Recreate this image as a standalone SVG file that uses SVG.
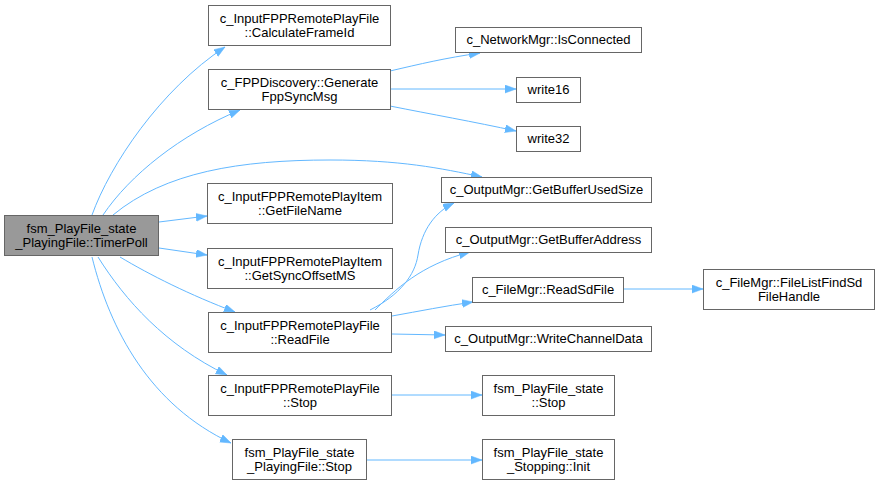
<svg xmlns="http://www.w3.org/2000/svg" width="879" height="485" viewBox="0 0 879 485">
<defs>
<marker id="ah" markerUnits="userSpaceOnUse" markerWidth="12" markerHeight="9" refX="11" refY="4" orient="auto">
<path d="M0,0 L11,4 L0,8 z" fill="#63b8ff" stroke="#63b8ff" stroke-width="0.5"/>
</marker>
</defs>
<style>
.n rect{fill:#ffffff;stroke:#666666;stroke-width:1}
.r rect{fill:#999999;stroke:#666666;stroke-width:1}
text{font-family:"Liberation Sans",Arial,sans-serif;font-size:13px;fill:#000;text-anchor:middle}
.e path{fill:none;stroke:#63b8ff;stroke-width:1;marker-end:url(#ah)}
</style>
<rect width="879" height="485" fill="#ffffff"/>
<g class="e" id="edges">
<path d="M92,215 C110,165 160,90 225,47"/>
<path d="M103,215 C130,175 180,135 240,110"/>
<path d="M113,215 C165,172 240,160 330,160 C400,160 440,168 482,177"/>
<path d="M159,222 L207,216"/>
<path d="M159,248 L207,255"/>
<path d="M120,257 C150,275 190,295 235,312"/>
<path d="M98,257 C125,300 165,345 227,375"/>
<path d="M92,257 C110,330 150,405 231,443"/>
<path d="M390,71 C420,64 445,58 480,53"/>
<path d="M390,89 L516,89"/>
<path d="M390,106 C430,114 475,122 516,131"/>
<path d="M370,310 C400,295 415,275 418,255 C422,230 435,212 454,203"/>
<path d="M375,310 C395,290 420,265 470,252"/>
<path d="M392,316 C420,311 445,306 473,302"/>
<path d="M392,334 L445,335"/>
<path d="M624,289 L703,289"/>
<path d="M392,395 L482,395"/>
<path d="M367,460 L482,460"/>
</g>
<g class="r" id="n_root"><rect x="4.5" y="215.5" width="154" height="40"/><text x="81.5" y="232.5">fsm_PlayFile_state</text><text x="81.5" y="246.5">_PlayingFile::TimerPoll</text></g>
<g class="n" id="n_calcframe"><rect x="208.5" y="5.5" width="182" height="40"/><text x="299.5" y="22.5">c_InputFPPRemotePlayFile</text><text x="299.5" y="36.5">::CalculateFrameId</text></g>
<g class="n" id="n_genfpp"><rect x="208.5" y="69.5" width="182" height="40"/><text x="299.5" y="86.5">c_FPPDiscovery::Generate</text><text x="299.5" y="100.5">FppSyncMsg</text></g>
<g class="n" id="n_getfilename"><rect x="207.5" y="183.5" width="185" height="40"/><text x="300" y="200.5">c_InputFPPRemotePlayItem</text><text x="300" y="214.5">::GetFileName</text></g>
<g class="n" id="n_getsync"><rect x="207.5" y="248.5" width="185" height="40"/><text x="300" y="265.5">c_InputFPPRemotePlayItem</text><text x="300" y="279.5">::GetSyncOffsetMS</text></g>
<g class="n" id="n_readfile"><rect x="208.5" y="312.5" width="183" height="40"/><text x="300" y="329.5">c_InputFPPRemotePlayFile</text><text x="300" y="343.5">::ReadFile</text></g>
<g class="n" id="n_inputstop"><rect x="208.5" y="375.5" width="183" height="40"/><text x="300" y="392.5">c_InputFPPRemotePlayFile</text><text x="300" y="406.5">::Stop</text></g>
<g class="n" id="n_playingstop"><rect x="232.5" y="439.5" width="134" height="40"/><text x="299.5" y="456.5">fsm_PlayFile_state</text><text x="299.5" y="470.5">_PlayingFile::Stop</text></g>
<g class="n" id="n_isconnected"><rect x="455.5" y="27.5" width="186" height="25"/><text x="548.5" y="44">c_NetworkMgr::IsConnected</text></g>
<g class="n" id="n_write16"><rect x="516.5" y="77.5" width="64" height="25"/><text x="548.5" y="94">write16</text></g>
<g class="n" id="n_write32"><rect x="516.5" y="126.5" width="64" height="25"/><text x="548.5" y="143">write32</text></g>
<g class="n" id="n_getbufused"><rect x="441.5" y="177.5" width="210" height="25"/><text x="546.5" y="194">c_OutputMgr::GetBufferUsedSize</text></g>
<g class="n" id="n_getbufaddr"><rect x="445.5" y="227.5" width="206" height="25"/><text x="548.5" y="244">c_OutputMgr::GetBufferAddress</text></g>
<g class="n" id="n_readsd"><rect x="472.5" y="277.5" width="151" height="25"/><text x="548" y="294">c_FileMgr::ReadSdFile</text></g>
<g class="n" id="n_writechan"><rect x="445.5" y="326.5" width="206" height="25"/><text x="548.5" y="343">c_OutputMgr::WriteChannelData</text></g>
<g class="n" id="n_fsmstop"><rect x="482.5" y="375.5" width="132" height="40"/><text x="548.5" y="392.5">fsm_PlayFile_state</text><text x="548.5" y="406.5">::Stop</text></g>
<g class="n" id="n_stoppinginit"><rect x="482.5" y="439.5" width="132" height="40"/><text x="548.5" y="456.5">fsm_PlayFile_state</text><text x="548.5" y="470.5">_Stopping::Init</text></g>
<g class="n" id="n_filelistfind"><rect x="703.5" y="269.5" width="171" height="40"/><text x="789" y="286.5">c_FileMgr::FileListFindSd</text><text x="789" y="300.5">FileHandle</text></g>
</svg>
